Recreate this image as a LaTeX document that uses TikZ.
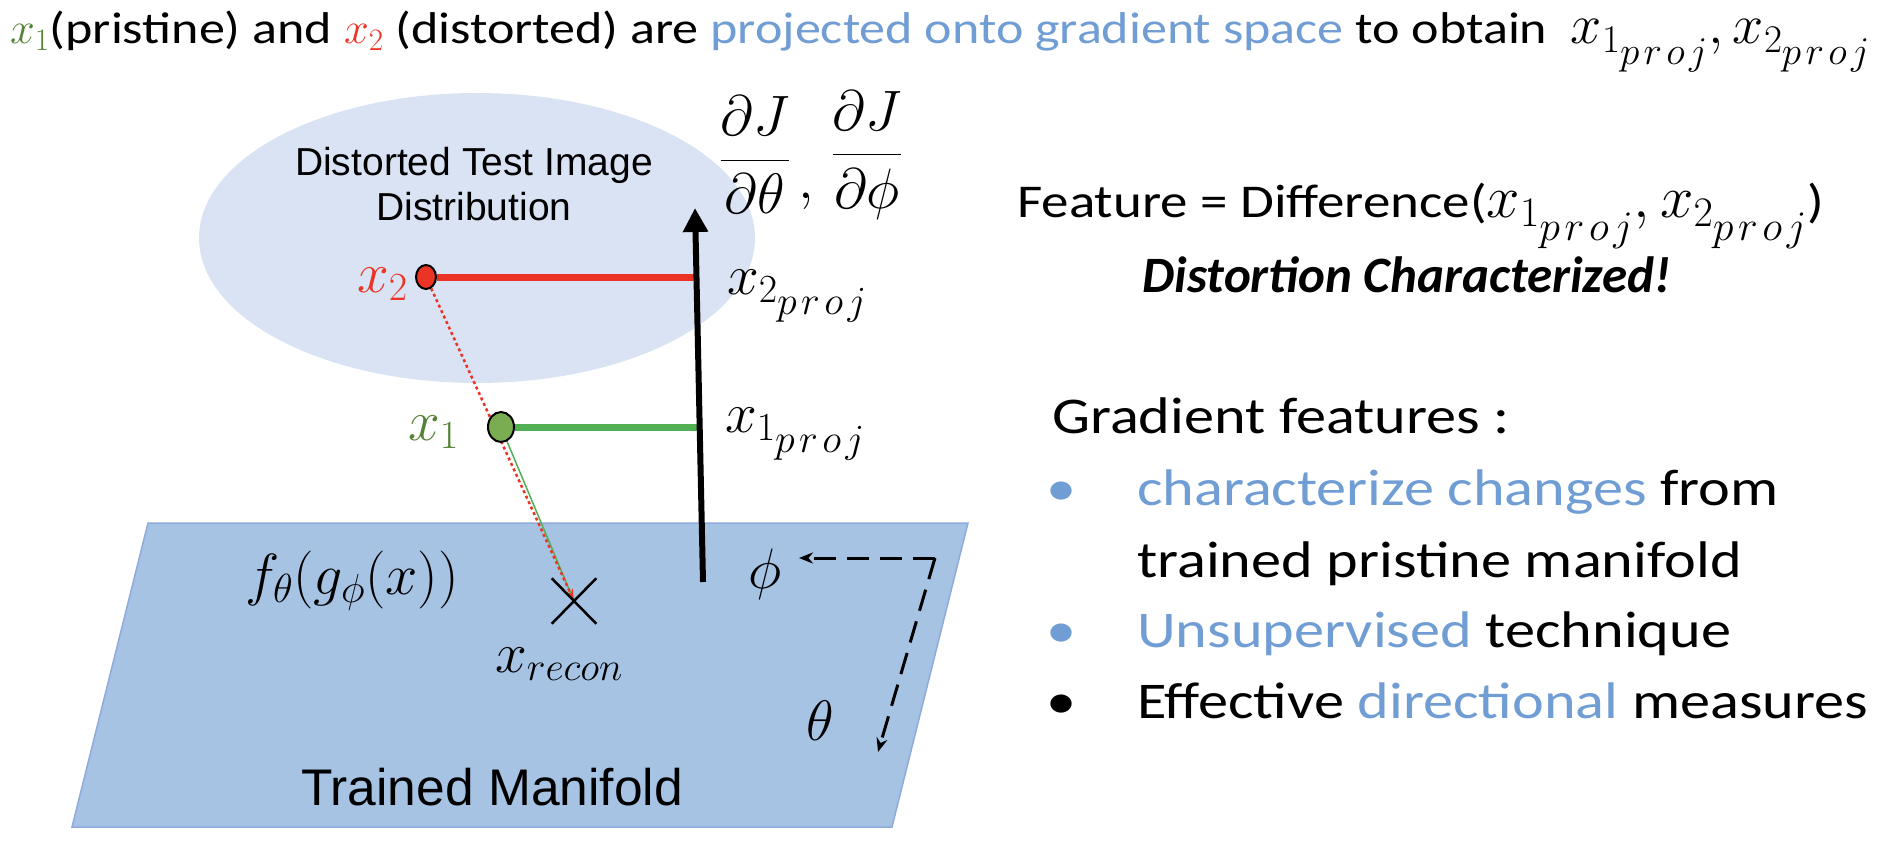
\documentclass[tikz,border=0pt]{standalone}
\usepackage{fix-cm}
\usepackage{amsmath}
\usepackage{fontspec}
\setmainfont{Carlito}
\newfontfamily\widefont{Carlito}[FakeStretch=1.17]
\newfontfamily\arialfont{Liberation Sans}
\definecolor{xgreen}{RGB}{84,130,53}
\definecolor{xred}{RGB}{235,52,37}
\definecolor{hlblue}{RGB}{112,157,212}
\definecolor{distblue}{RGB}{218,227,243}
\definecolor{manifold}{RGB}{166,195,228}
\definecolor{manifolddraw}{RGB}{143,170,220}
\definecolor{projgreen}{RGB}{82,176,84}
\definecolor{dotgreen}{RGB}{122,172,82}
\usetikzlibrary{arrows.meta,shapes.geometric,shapes.misc}
\pgfdeclarelayer{back}
\pgfsetlayers{back,main}
\newcommand{\xproj}[1]{x_{#1_{\scriptstyle p\mkern2mu r\mkern2mu o\mkern2mu j}}}

\begin{document}
\begin{tikzpicture}[
  x=1pt,y=-1pt,
  every node/.style={inner sep=0pt},
  titlefont/.style={font=\widefont\fontsize{44.5}{52}\selectfont},
  featfont/.style={font=\widefont\fontsize{47}{56}\selectfont},
  mathfont/.style={font=\fontsize{57}{64}\selectfont},
  listfont/.style={font=\widefont\fontsize{51.5}{62}\selectfont},
  pointdot/.style={ellipse,draw,line width=2pt,inner sep=0pt},
  rotarrow/.style={line width=3pt,dash pattern=on 22pt off 11pt,-{Stealth[length=14pt,width=11pt]}},
]
  \useasboundingbox (0,0) rectangle (1902,842);

  % Title
  \node[titlefont,anchor=base west] (title) at (10,44) {\textcolor{xgreen}{$x_1$}(pristine) and \textcolor{xred}{$x_2$} (distorted) are \textcolor{hlblue}{projected onto gradient space} to obtain\ \ {\fontsize{56}{60}\selectfont$\xproj{1}, \xproj{2}$}};

  % Distribution and manifold
  \begin{pgfonlayer}{back}
    \fill[distblue] (477,238) ellipse [x radius=278, y radius=145];
    \draw[manifolddraw,fill=manifold,line width=1.5pt] (148,523) -- (968,523) -- (892,827) -- (72,827) -- cycle;
  \end{pgfonlayer}
  \node[font=\arialfont\fontsize{39}{45}\selectfont,align=center] (distlbl) at (474,184) {Distorted Test Image\\Distribution};
  \node[font=\arialfont\fontsize{51.5}{58}\selectfont,anchor=base] (manlbl) at (492,805) {Trained Manifold};

  % Points
  \node[pointdot,fill=xred,minimum width=20pt,minimum height=24pt] (x2) at (426,277) {};
  \node[pointdot,fill=dotgreen,minimum width=26pt,minimum height=30pt] (x1) at (501,427) {};
  \node[mathfont,anchor=base west,text=xred] (x2lbl) at (357,292) {$x_2$};
  \node[mathfont,anchor=base west,text=xgreen] (x1lbl) at (408,440) {$x_1$};

  % Gradient axis
  \coordinate (axisbot) at (703,582);
  \coordinate (axistop) at (695,208);
  \coordinate (p2) at (696.5,277);
  \coordinate (p1) at (700,427);
  \node[cross out,draw,line width=2.5pt,minimum width=42pt,minimum height=43pt] (xrecon) at (574,601) {};
  \begin{pgfonlayer}{back}
    \draw[xred,line width=7pt] (x2) -- (p2);
    \draw[projgreen,line width=7pt] (x1) -- (p1);
    \draw[projgreen,line width=1.5pt] (x1) -- (xrecon.center);
    \draw[xred,line width=2.5pt,dash pattern=on 3pt off 3pt,-{Stealth[length=12pt,width=8pt]}] (x2) -- (xrecon.center);
  \end{pgfonlayer}
  \draw[line width=6pt,-{Triangle[width=24pt,length=24pt]}] (axisbot) -- (axistop);
  \node[mathfont] (djdtheta) at (755,155) {$\dfrac{\partial J}{\partial\theta}$};
  \node[mathfont,anchor=base] (gradcomma) at (806,199) {$,$};
  \node[mathfont] (djdphi) at (867,155) {$\dfrac{\partial J}{\partial\phi}$};
  \node[mathfont,anchor=base west] (x2proj) at (727,294) {$\xproj{2}$};
  \node[mathfont,anchor=base west] (x1proj) at (725,432) {$\xproj{1}$};

  % Manifold labels
  \node[font=\fontsize{58}{64}\selectfont,anchor=base west] (fglbl) at (245,594) {$f_\theta(g_\phi(x))$};
  \node[mathfont,anchor=base west] (reconlbl) at (495,672) {$x_{recon}$};
  \node[mathfont,anchor=base west] (philbl) at (748,588) {$\phi$};
  \node[mathfont,anchor=base west] (thetalbl) at (806,740) {$\theta$};
  \coordinate (rotcorner) at (935,558);
  \coordinate (phitip) at (799,558);
  \coordinate (thetatip) at (878,752);
  \draw[rotarrow] (rotcorner) -- (phitip);
  \draw[rotarrow] (rotcorner) -- (thetatip);

  % Feature
  \node[featfont,anchor=base west] (feature) at (1017,218) {Feature = Difference({\fontsize{60}{64}\selectfont$\xproj{1}, \xproj{2}$})};
  \node[font={\fontsize{51}{60}\selectfont\bfseries\itshape},anchor=base] (charac) at (1407,292) {Distortion Characterized!};

  % Gradient features list
  \node[listfont,anchor=base west] (gradhead) at (1052,433) {Gradient features :};
  \node[listfont,anchor=base,text=hlblue] (b1) at (1061,505) {\textbullet};
  \node[listfont,anchor=base west] (l1) at (1137,505) {\textcolor{hlblue}{characterize changes} from};
  \node[listfont,anchor=base west] (l1b) at (1137,577) {trained pristine manifold};
  \node[listfont,anchor=base,text=hlblue] (b2) at (1061,647) {\textbullet};
  \node[listfont,anchor=base west] (l2) at (1137,647) {\textcolor{hlblue}{Unsupervised} technique};
  \node[listfont,anchor=base] (b3) at (1061,718) {\textbullet};
  \node[listfont,anchor=base west] (l3) at (1137,718) {Effective \textcolor{hlblue}{directional} measures};
\end{tikzpicture}
\end{document}
